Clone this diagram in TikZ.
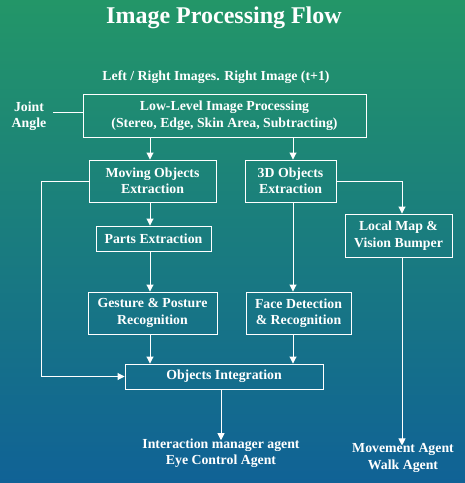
\documentclass[tikz,border=0pt]{standalone}
\usepackage{fontspec}
\setmainfont{Liberation Serif}
\usetikzlibrary{arrows.meta}
\definecolor{bgtop}{RGB}{35,150,104}
\definecolor{bgmid}{RGB}{32,128,126}
\definecolor{bgbot}{RGB}{16,98,150}
\begin{document}
\begin{tikzpicture}[x=1pt,y=-1pt,
  every node/.style={text=white,font=\bfseries\fontsize{13.8}{16.5}\selectfont,align=center,inner sep=0pt},
  box/.style={draw=white,line width=0.9pt},
  conn/.style={draw=white,line width=0.9pt},
  arr/.style={conn,-{Triangle[length=7pt,width=7pt]}}]
\shade[top color=bgtop,middle color=bgmid,bottom color=bgbot] (0,0) rectangle (465,483);
\useasboundingbox (0,0) rectangle (465,483);
\node[font=\bfseries\fontsize{24}{27}\selectfont] (title) at (224,18) {Image Processing Flow};
\node (input) at (216,77) {Left / Right Images. Right Image (t+1)};
\node (joint) at (29,116) {Joint\\Angle};
\node[box,minimum width=283pt,minimum height=43pt] (low) at (224.5,115.5) {Low-Level Image Processing\\(Stereo, Edge, Skin Area, Subtracting)};
\node[box,minimum width=127pt,minimum height=42pt] (mov) at (152.5,181) {Moving Objects\\Extraction};
\node[box,minimum width=91pt,minimum height=42pt] (d3) at (290.5,181) {3D Objects\\Extraction};
\node[box,minimum width=107pt,minimum height=43pt] (loc) at (398.5,235.5) {Local Map \&\\Vision Bumper};
\node[box,minimum width=115pt,minimum height=25pt] (parts) at (153.5,238.5) {Parts Extraction};
\node[box,minimum width=129pt,minimum height=42pt] (ges) at (152.5,313) {Gesture \& Posture\\Recognition};
\node[box,minimum width=105pt,minimum height=42pt] (face) at (298.5,313) {Face Detection\\\& Recognition};
\node[box,minimum width=198pt,minimum height=25pt] (oi) at (224,376.5) {Objects Integration};
\node (inter) at (221,453) {Interaction manager agent\\Eye Control Agent};
\node (move) at (403,458) {Movement Agent\\Walk Agent};
\coordinate (ja) at (53,112);
\coordinate (c1) at (150,0);
\coordinate (c2) at (293,0);
\coordinate (cl) at (41,0);
\coordinate (cr) at (402,0);
\coordinate (co) at (221,0);
\draw[conn] (ja) -- (low.west |- ja);
\draw[arr] (low.south -| c1) -- (mov.north -| c1);
\draw[arr] (low.south -| c2) -- (d3.north -| c2);
\draw[arr] (mov.south -| c1) -- (parts.north -| c1);
\draw[arr] (parts.south -| c1) -- (ges.north -| c1);
\draw[arr] (d3.south -| c2) -- (face.north -| c2);
\draw[arr] (ges.south -| c1) -- (oi.north -| c1);
\draw[arr] (face.south -| c2) -- (oi.north -| c2);
\draw[arr] (mov.west) -- (cl |- mov.west) -- (cl |- oi.west) -- (oi.west);
\draw[arr] (d3.east) -- (cr |- d3.east) -- (loc.north -| cr);
\draw[arr] (oi.south -| co) -- ([yshift=-2pt]inter.north -| co);
\draw[arr] (loc.south -| cr) -- ([yshift=-2pt]move.north -| cr);
\end{tikzpicture}
\end{document}
